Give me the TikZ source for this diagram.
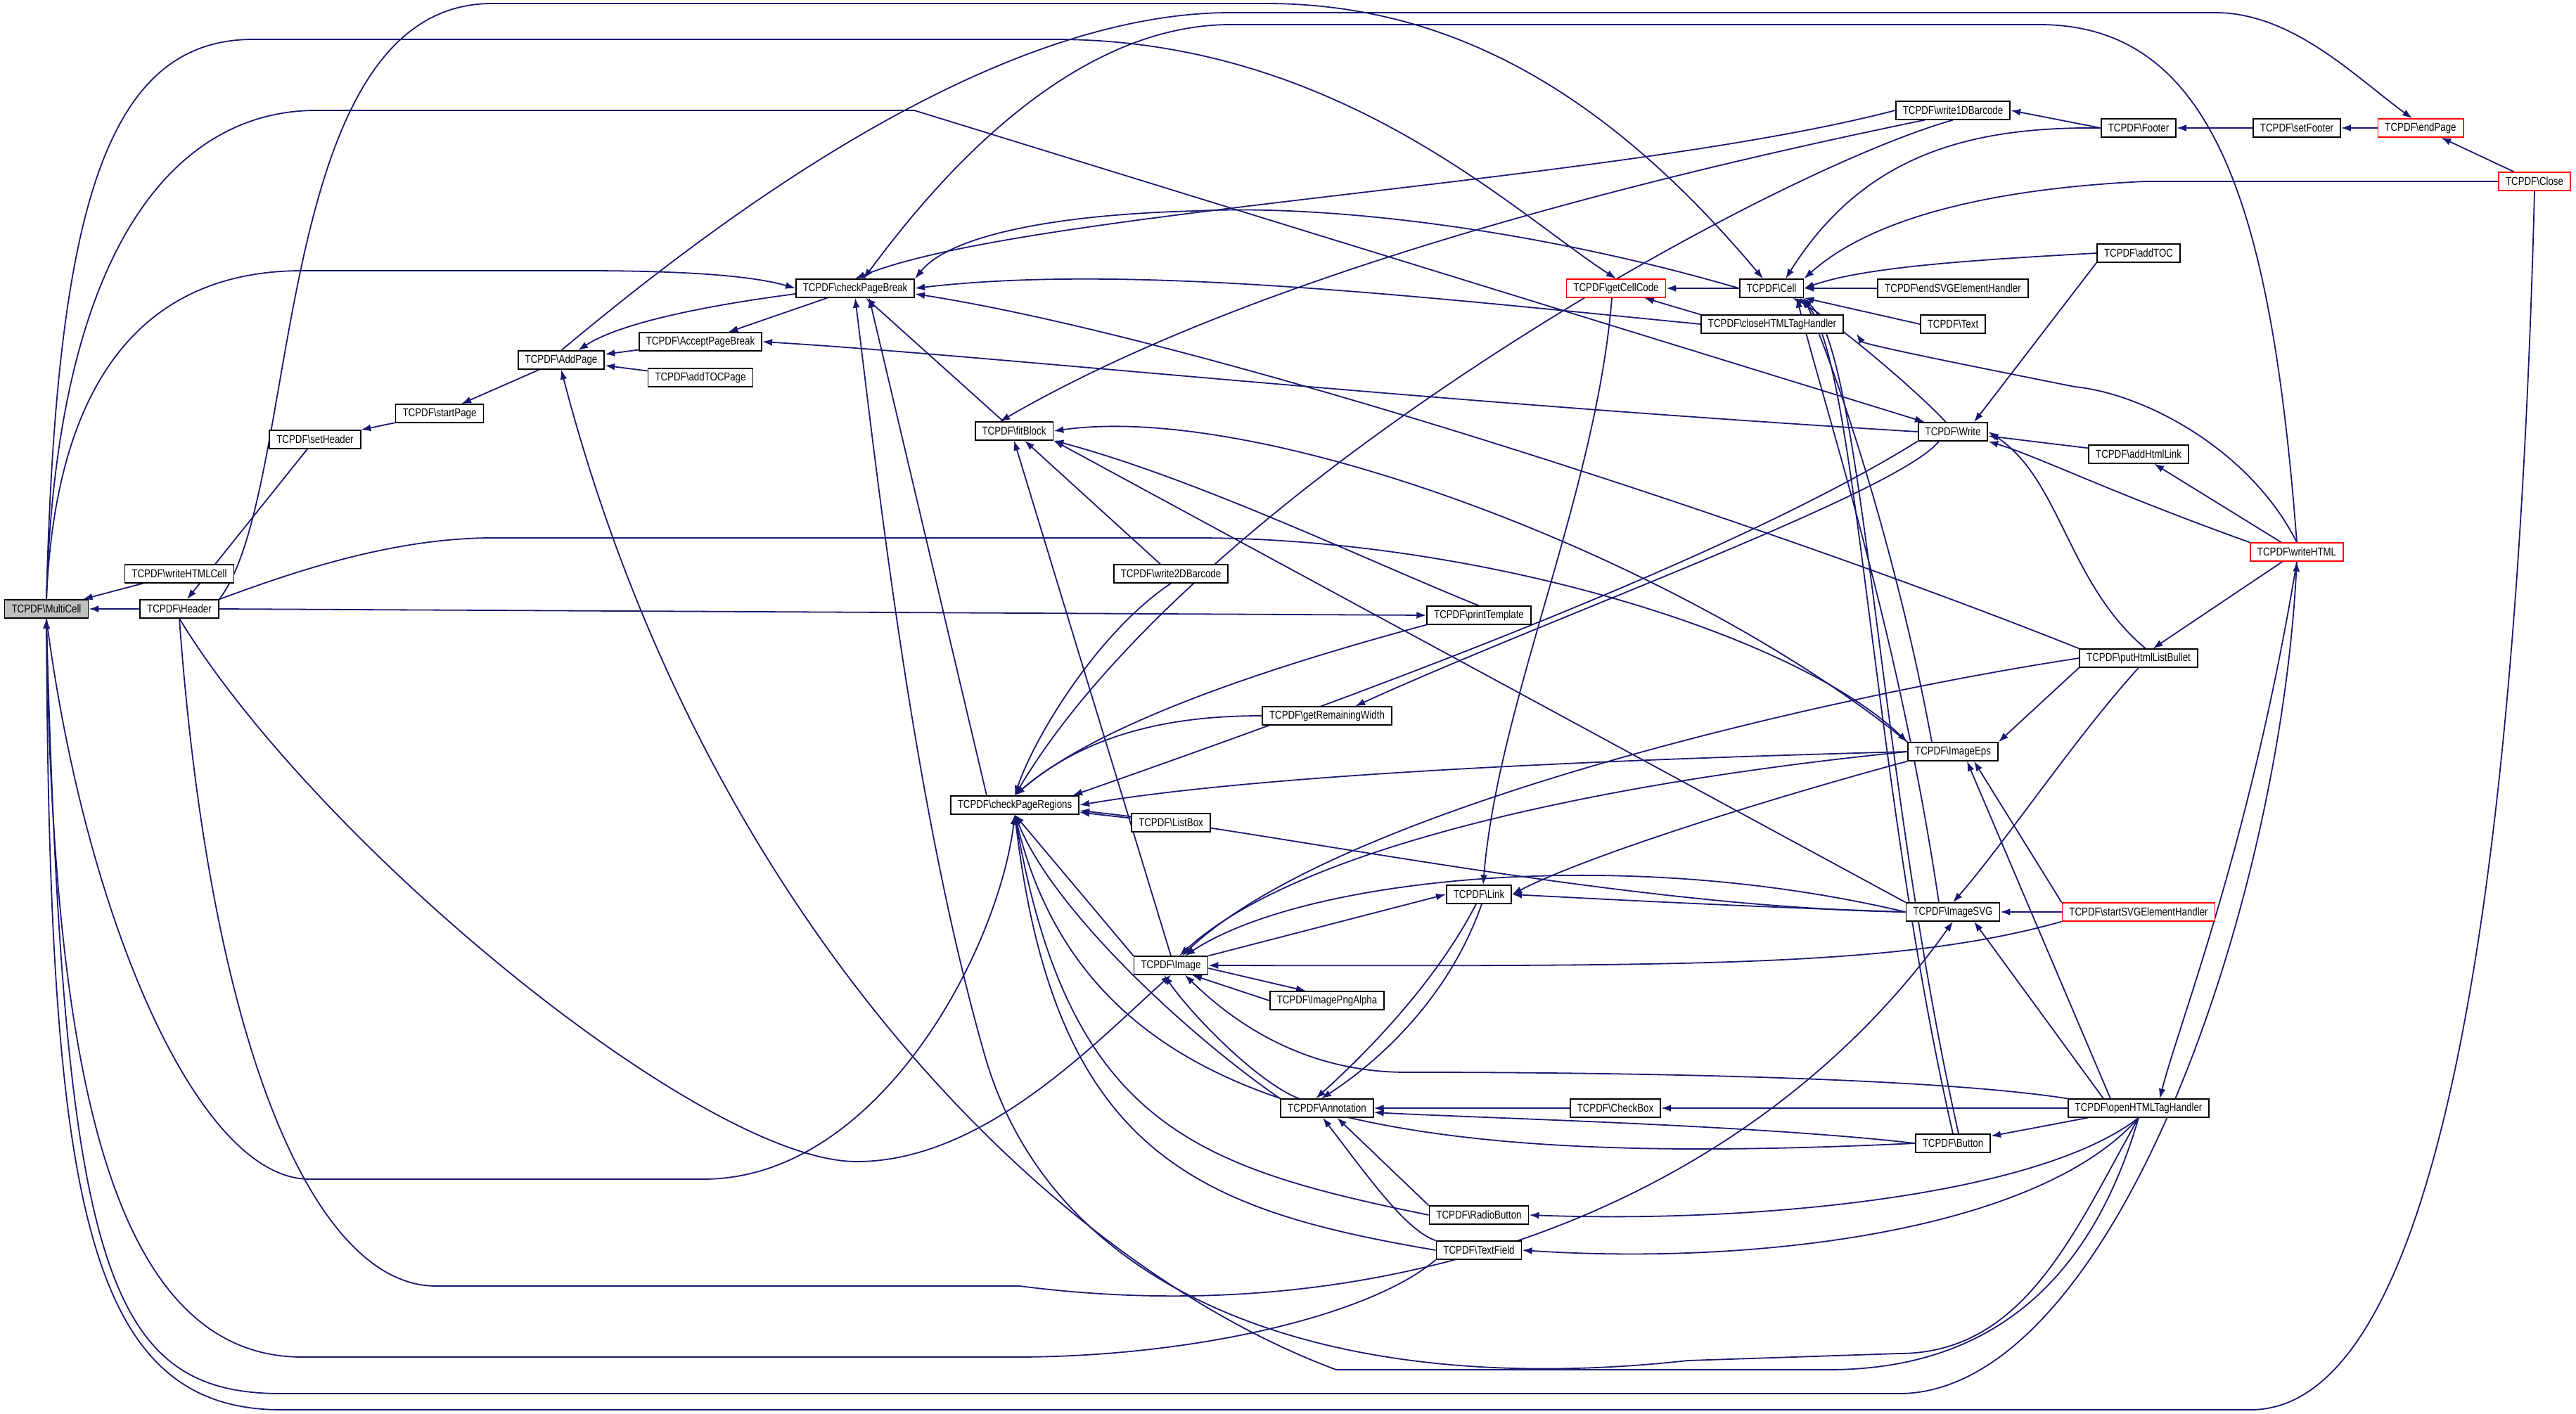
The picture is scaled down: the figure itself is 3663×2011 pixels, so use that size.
\documentclass[tikz,border=0pt]{standalone}
\usepackage{fontspec}
\usetikzlibrary{arrows.meta}
\newfontfamily\fnfont[FakeStretch=0.82]{Liberation Sans}
\definecolor{edgeblue}{HTML}{191970}
\definecolor{rootgray}{HTML}{BFBFBF}
\newcommand{\tc}[1]{TCPDF\textbackslash #1}
\pgfdeclarelayer{edges}
\pgfsetlayers{edges,main}

\tikzstyle{func}=[draw=black, line width=0.9pt, fill=white, inner xsep=5pt, inner ysep=0pt, minimum height=12.75pt, font=\fnfont\fontsize{8.1pt}{9pt}\selectfont]
\tikzstyle{hot}=[func, draw=red]
\tikzstyle{root}=[func, fill=rootgray]
\tikzstyle{call}=[draw=edgeblue, line width=0.9pt, -{Latex[length=7pt,width=5pt]}]

\begin{document}
\begin{tikzpicture}[x=0.5pt, y=-0.5pt]
  \useasboundingbox (0,0) rectangle (3663,2011);

  % callers, column by column
  \node[root] (MC) at (66,866) {\tc{MultiCell}};
  \node[func] (WHC) at (255,816) {\tc{writeHTMLCell}};
  \node[func] (HD) at (255,866) {\tc{Header}};
  \node[func] (SH) at (448,625) {\tc{setHeader}};
  \node[func] (SP) at (625,588) {\tc{startPage}};
  \node[func] (AP) at (798,512) {\tc{AddPage}};
  \node[func] (APB) at (996,486) {\tc{AcceptPageBreak}};
  \node[func] (ATP) at (996,537) {\tc{addTOCPage}};
  \node[func] (CPB) at (1216,410) {\tc{checkPageBreak}};
  \node[func] (FB) at (1442,613) {\tc{fitBlock}};
  \node[func] (CPR) at (1443,1145) {\tc{checkPageRegions}};
  \node[func] (W2D) at (1665,816) {\tc{write2DBarcode}};
  \node[func] (LB) at (1665,1170) {\tc{ListBox}};
  \node[func] (IMG) at (1665,1373) {\tc{Image}};
  \node[func] (GRW) at (1887,1018) {\tc{getRemainingWidth}};
  \node[func] (IPA) at (1887,1423) {\tc{ImagePngAlpha}};
  \node[func] (ANN) at (1887,1576) {\tc{Annotation}};
  \node[func] (PT) at (2103,875) {\tc{printTemplate}};
  \node[func] (LNK) at (2103,1272) {\tc{Link}};
  \node[func] (RB) at (2103,1728) {\tc{RadioButton}};
  \node[func] (TF) at (2103,1778) {\tc{TextField}};
  \node[hot] (GCC) at (2298,410) {\tc{getCellCode}};
  \node[func] (CB) at (2297,1576) {\tc{CheckBox}};
  \node[func] (CELL) at (2519,410) {\tc{Cell}};
  \node[func] (CHT) at (2520,461) {\tc{closeHTMLTagHandler}};
  \node[func] (W1D) at (2777,157) {\tc{write1DBarcode}};
  \node[func] (ESH) at (2777,410) {\tc{endSVGElementHandler}};
  \node[func] (TXT) at (2777,461) {\tc{Text}};
  \node[func] (WR) at (2777,614) {\tc{Write}};
  \node[func] (EPS) at (2777,1069) {\tc{ImageEps}};
  \node[func] (SVG) at (2777,1297) {\tc{ImageSVG}};
  \node[func] (BTN) at (2777,1626) {\tc{Button}};
  \node[func] (FT) at (3041,182) {\tc{Footer}};
  \node[func] (ATOC) at (3041,360) {\tc{addTOC}};
  \node[func] (AHL) at (3041,646) {\tc{addHtmlLink}};
  \node[func] (PHB) at (3041,936) {\tc{putHtmlListBullet}};
  \node[hot] (SSH) at (3041,1297) {\tc{startSVGElementHandler}};
  \node[func] (OHT) at (3041,1576) {\tc{openHTMLTagHandler}};
  \node[func] (SF) at (3266,182) {\tc{setFooter}};
  \node[hot] (WH) at (3266,785) {\tc{writeHTML}};
  \node[hot] (EP) at (3442,182) {\tc{endPage}};
  \node[hot] (CL) at (3604,258) {\tc{Close}};

  \begin{pgfonlayer}{edges}
  % left part
  \draw[call] (WHC) -- (MC);
  \draw[call] (HD) -- (MC);
  \draw[call] (SH) -- (HD);
  \draw[call] (SP) -- (SH);
  \draw[call] (AP) -- (SP);
  \draw[call] (APB) -- (AP);
  \draw[call] (ATP) -- (AP);
  \draw[call] ([yshift=-4pt]CPB.west) .. controls (1000,435) and (880,460) .. ([xshift=12pt]AP.north);
  \draw[call] (CPB) -- (APB);
  \draw[call] (MC.north) .. controls (80,520) and (220,385) .. (430,385) -- (830,385) .. controls (1000,385) and (1080,395) .. (CPB.west);
  \draw[call] (WR.west) .. controls (2000,570) and (1400,505) .. (APB.east);
  \draw[call] (HD.north east) .. controls (430,700) and (380,5) .. (700,5) -- (1800,5) .. controls (2080,5) and (2300,150) .. ([xshift=-6pt]CELL.north);
  \draw[call] (HD.east) -- (PT.west);
  \draw[call] (HD.north east) .. controls (400,820) and (550,765) .. (700,765) -- (1700,765) .. controls (2100,765) and (2550,900) .. (EPS.north west);
  \draw[call] (HD.south) .. controls (450,1200) and (1000,1652) .. (1218,1652) .. controls (1400,1652) and (1560,1480) .. (IMG.south);
  \draw[call] (HD.south) .. controls (300,1500) and (450,1829) .. (620,1829) -- (1450,1829) .. controls (2000,1900) and (2500,1700) .. (SVG.south);
  \draw[call] (MC.south) .. controls (120,1300) and (280,1677) .. (440,1677) -- (1000,1677) .. controls (1250,1677) and (1420,1350) .. (CPR.south);
  \draw[call] (TF.south west) .. controls (1950,1870) and (1700,1930) .. (1443,1930) -- (430,1930) .. controls (150,1930) and (75,1500) .. (MC.south);
  \draw[call] (CL.south) .. controls (3580,1200) and (3480,2005) .. (3200,2005) -- (400,2005) .. controls (120,2005) and (70,1700) .. (MC.south);
  \draw[call] (MC.south) .. controls (90,1800) and (150,1982) .. (400,1982) -- (2700,1982) .. controls (3000,1982) and (3240,1300) .. (WH.south);
  \draw[call] (MC.north) .. controls (80,300) and (150,56) .. (360,56) -- (1500,56) .. controls (1900,56) and (2150,300) .. (GCC.north);
  \draw[call] (MC.north) .. controls (80,350) and (250,157) .. (450,157) -- (1300,157) -- ([xshift=-20pt]WR.north);
  \draw[call] (AP.north) .. controls (1000,330) and (1400,18) .. (1750,18) -- (3150,18) .. controls (3260,18) and (3350,110) .. ([xshift=-6pt]EP.north);
  \draw[call] (OHT.south) .. controls (2980,1800) and (2850,1948) .. (2600,1948) -- (1900,1948) .. controls (1491,1796) and (1000,1300) .. (AP.south);
  \draw[call] (WH.north) .. controls (3230,300) and (3150,35) .. (2900,35) -- (1750,35) .. controls (1500,35) and (1300,300) .. ([xshift=6pt]CPB.north);
  \draw[call] (OHT.south) .. controls (2950,1750) and (2880,1925) .. (2700,1925) -- (2400,1935) .. controls (1900,1990) and (1500,1850) .. (1400,1500) .. controls (1300,1150) and (1250,700) .. (CPB.south);

  % checkPageBreak and fitBlock
  \draw[call] ([xshift=-20pt]CPR.north) -- ([xshift=10pt]CPB.south);
  \draw[call] (FB) -- (CPB);
  \draw[call] (W1D.west) .. controls (2300,260) and (1450,300) .. (CPB.north);
  \draw[call] (CELL.west) .. controls (2200,330) and (1900,290) .. (1700,300) .. controls (1500,305) and (1350,335) .. (CPB.north east);
  \draw[call] (CHT.west) .. controls (2000,420) and (1600,375) .. (CPB.east);
  \draw[call] (PHB.north west) .. controls (2500,740) and (1700,480) .. ([yshift=-4pt]CPB.east);
  \draw[call] ([xshift=-20pt]W1D.south) .. controls (2400,240) and (1800,380) .. ([xshift=-10pt]FB.north);
  \draw[call] (W2D) -- (FB);
  \draw[call] (PT.north) .. controls (1950,800) and (1700,680) .. (FB.south east);
  \draw[call] (IMG.north) -- (FB.south);
  \draw[call] (EPS.north west) .. controls (2400,800) and (1800,570) .. (FB.east);
  \draw[call] (SVG.north west) -- (FB.south east);

  % checkPageRegions
  \draw[call] (W2D.south) .. controls (1560,900) and (1470,1050) .. (CPR.north);
  \draw[call] (GRW.west) .. controls (1700,1018) and (1560,1030) .. (CPR.north);
  \draw[call] (PT.south west) .. controls (1800,950) and (1560,1030) .. (CPR.north);
  \draw[call] (WR.south west) .. controls (2450,800) and (1900,1000) .. ([xshift=-5pt]CPR.north east);
  \draw[call] (EPS.west) .. controls (2300,1080) and (1800,1100) .. (CPR.east);
  \draw[call] (SVG.west) .. controls (2300,1290) and (1800,1180) .. ([yshift=-4pt]CPR.east);
  \draw[call] (LB) -- (CPR);
  \draw[call] (IMG.north west) -- (CPR.south);
  \draw[call] (ANN.north west) .. controls (1700,1480) and (1500,1300) .. (CPR.south);
  \draw[call] (RB.west) .. controls (1700,1660) and (1520,1600) .. (CPR.south);
  \draw[call] (TF.west) .. controls (1700,1720) and (1500,1640) .. (CPR.south);
  \draw[call] (BTN.west) .. controls (2000,1660) and (1550,1600) .. (CPR.south);
  \draw[call] (W1D.south) .. controls (2500,250) and (1700,700) .. (CPR.north);

  % Image and Link
  \draw[call] ([yshift=-2pt]IMG.east) -- ([xshift=-15pt]IPA.north);
  \draw[call] (IPA.west) -- ([xshift=15pt]IMG.south);
  \draw[call] (IMG.north east) -- (LNK.west);
  \draw[call] (SSH.south west) .. controls (2700,1376) and (2400,1374) .. (IMG.east);
  \draw[call] (OHT.north west) .. controls (2700,1525) and (2100,1525) .. (2000,1525) .. controls (1850,1525) and (1750,1450) .. ([xshift=10pt]IMG.south);
  \draw[call] (PHB.west) .. controls (2600,990) and (1900,1150) .. ([xshift=8pt]IMG.north);
  \draw[call] ([xshift=-20pt]ANN.north) .. controls (1790,1540) and (1700,1450) .. ([xshift=-5pt]IMG.south);
  \draw[call] (EPS.west) .. controls (2300,1110) and (1850,1200) .. ([xshift=6pt]IMG.north);
  \draw[call] (SVG.west) .. controls (2300,1200) and (1850,1250) .. ([xshift=10pt]IMG.north);
  \draw[call] ([xshift=-3pt]GCC.south) .. controls (2270,700) and (2130,1000) .. ([xshift=3pt]LNK.north);
  \draw[call] (EPS.south west) .. controls (2500,1140) and (2250,1220) .. (LNK.east);
  \draw[call] (SVG.west) .. controls (2500,1290) and (2300,1280) .. (LNK.east);
  \draw[call] ([xshift=-2pt]LNK.south) .. controls (2040,1400) and (1940,1500) .. ([xshift=-8pt]ANN.north);
  \draw[call] ([xshift=2pt]LNK.south) .. controls (2060,1420) and (1960,1510) .. ([xshift=-4pt]ANN.north);

  % Annotation
  \draw[call] (CB) -- (ANN);
  \draw[call] (RB.north west) -- (ANN);
  \draw[call] (TF.north west) .. controls (2000,1750) and (1950,1680) .. ([xshift=-3pt]ANN.south);
  \draw[call] (BTN.west) .. controls (2500,1600) and (2100,1590) .. ([yshift=-3pt]ANN.east);

  % Cell
  \draw[call] (CELL) -- (GCC);
  \draw[call] (CHT.north west) -- ([xshift=20pt]GCC.south);
  \draw[call] (ESH) -- (CELL);
  \draw[call] (TXT.west) -- (CELL.south east);
  \draw[call] ([xshift=-5pt]WR.north) .. controls (2720,550) and (2600,450) .. ([xshift=15pt]CELL.south);
  \draw[call] ([xshift=-10pt]SVG.north) .. controls (2700,900) and (2600,600) .. ([xshift=18pt]CELL.south);
  \draw[call] (BTN.north) .. controls (2660,1100) and (2640,500) .. ([xshift=20pt]CELL.south);
  \draw[call] ([xshift=4pt]BTN.north) .. controls (2670,1100) and (2650,500) .. ([xshift=22pt]CELL.south);
  \draw[call] ([xshift=-15pt]EPS.north) .. controls (2700,800) and (2620,550) .. (CELL.south east);
  \draw[call] (FT.west) .. controls (2800,180) and (2650,220) .. ([xshift=10pt]CELL.north);
  \draw[call] (CL.west) -- (3050,258) .. controls (2800,270) and (2650,320) .. (CELL.north east);
  \draw[call] (ATOC.west) .. controls (2800,370) and (2650,380) .. (CELL.east);

  % right part
  \draw[call] (SF) -- (FT);
  \draw[call] (EP) -- (SF);
  \draw[call] (CL) -- (EP);
  \draw[call] (FT.west) -- (W1D.east);
  \draw[call] (ATOC.south west) -- ([xshift=15pt]WR.north);
  \draw[call] (AHL) -- (WR);
  \draw[call] (WH.north west) .. controls (3000,700) and (2900,650) .. (WR.south east);
  \draw[call] (WH) -- (AHL);
  \draw[call] (WH) -- (PHB);
  \draw[call] (WH.south) .. controls (3200,1200) and (3100,1450) .. ([xshift=15pt]OHT.north);
  \draw[call] (WH.north) .. controls (3200,640) and (3050,560) .. (2950,550) .. controls (2800,520) and (2650,490) .. ([xshift=60pt]CHT.south);
  \draw[call] ([xshift=5pt]PHB.north) .. controls (2940,830) and (2930,680) .. (WR.east);
  \draw[call] (PHB.south) .. controls (2950,1050) and (2850,1200) .. (SVG.north);
  \draw[call] (PHB.south west) -- (EPS.north east);
  \draw[call] ([xshift=-20pt]OHT.north) -- ([xshift=10pt]EPS.south);
  \draw[call] ([xshift=-25pt]OHT.north) -- ([xshift=15pt]SVG.south);
  \draw[call] (OHT) -- (CB);
  \draw[call] (OHT) -- (BTN);
  \draw[call] (OHT.south) .. controls (2900,1700) and (2500,1740) .. (RB.east);
  \draw[call] (OHT.south) .. controls (2900,1750) and (2500,1800) .. (TF.east);
  \draw[call] (SSH) -- (SVG);
  \draw[call] (SSH.north west) -- ([xshift=15pt]EPS.south);
  \draw[call] ([xshift=-10pt]WR.south) .. controls (2700,700) and (2200,880) .. ([xshift=20pt]GRW.north);
  \end{pgfonlayer}
\end{tikzpicture}
\end{document}
